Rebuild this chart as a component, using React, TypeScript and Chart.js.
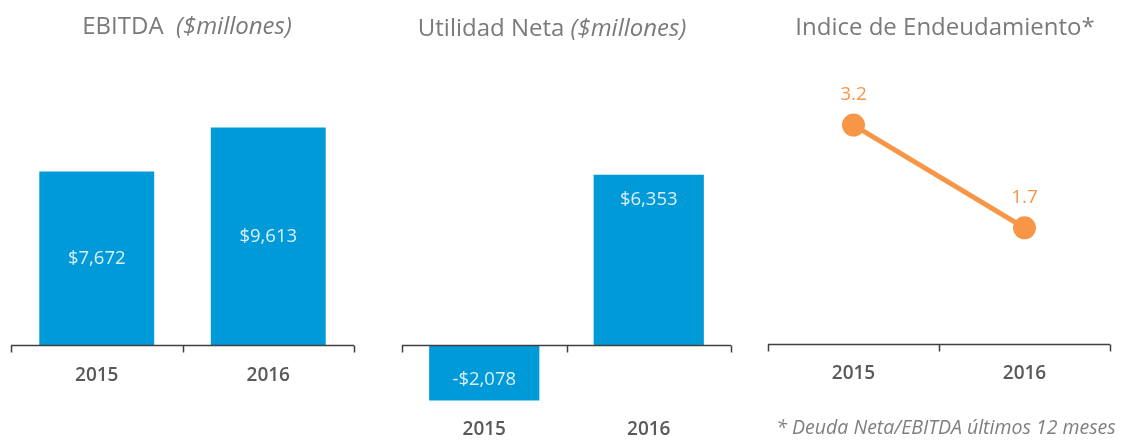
import React, { useEffect, useRef } from "react";
import { Chart, registerables } from "chart.js";
Chart.register(...registerables);

const years = ["2015", "2016"];
const ebitda = [7672, 9613];
const utilidadNeta = [-2078, 6353];
const endeudamiento = [3.2, 1.7];

const BLUE = "#009ad8";
const ORANGE = "#f79646";
const AXIS = "#404040";
const TITLE_GRAY = "#7a7a7a";
const TICK_GRAY = "#595959";
const FONT = "'Open Sans', 'DejaVu Sans', sans-serif";

const money = (v: number) =>
  (v < 0 ? "-$" : "$") + Math.abs(v).toLocaleString("en-US");

type TitlePart = { text: string; italic?: boolean };

const titlePlugin = {
  id: "panelTitle",
  afterDraw(chart: any, _args: any, opts: any) {
    if (!opts || !opts.parts) return;
    const ctx = chart.ctx;
    ctx.save();
    ctx.fillStyle = opts.color || TITLE_GRAY;
    ctx.textBaseline = "middle";
    const fontOf = (p: TitlePart) =>
      `${p.italic ? "italic " : ""}${opts.size}px ${FONT}`;
    let total = 0;
    const widths = opts.parts.map((p: TitlePart) => {
      ctx.font = fontOf(p);
      const w = ctx.measureText(p.text).width;
      total += w;
      return w;
    });
    let x = opts.cx - total / 2;
    opts.parts.forEach((p: TitlePart, i: number) => {
      ctx.font = fontOf(p);
      ctx.textAlign = "left";
      ctx.fillText(p.text, x, opts.cy);
      x += widths[i];
    });
    ctx.restore();
  },
};

const baselinePlugin = {
  id: "baseline",
  afterDatasetsDraw(chart: any) {
    const { ctx, chartArea } = chart;
    const x = chart.scales.x;
    const y = chart.scales.y;
    const y0 = Math.round(y.getPixelForValue(0)) + 0.5;
    const half = (x.getPixelForValue(1) - x.getPixelForValue(0)) / 2;
    const marks = [
      x.getPixelForValue(0) - half,
      x.getPixelForValue(0) + half,
      x.getPixelForValue(1) + half,
    ];
    ctx.save();
    ctx.strokeStyle = AXIS;
    ctx.lineWidth = 1.5;
    ctx.beginPath();
    ctx.moveTo(chartArea.left, y0);
    ctx.lineTo(chartArea.right, y0);
    marks.forEach((m) => {
      const mx = Math.round(m) + 0.5;
      ctx.moveTo(mx, y0);
      ctx.lineTo(mx, y0 + 7);
    });
    ctx.stroke();
    ctx.restore();
  },
};

const valueLabelPlugin = {
  id: "valueLabels",
  afterDatasetsDraw(chart: any, _args: any, opts: any) {
    if (!opts || !opts.mode) return;
    const ctx = chart.ctx;
    const meta = chart.getDatasetMeta(0);
    const data = chart.data.datasets[0].data as number[];
    ctx.save();
    ctx.font = `${opts.size}px ${FONT}`;
    ctx.fillStyle = opts.color;
    ctx.textAlign = "center";
    ctx.textBaseline = "middle";
    meta.data.forEach((el: any, i: number) => {
      const v = data[i];
      let ty = el.y;
      if (opts.mode === "center") {
        ty = (el.y + el.base) / 2;
      } else if (opts.mode === "endInside") {
        ty = v >= 0 ? el.y + 25 : el.y - 21;
      } else if (opts.mode === "above") {
        ty = el.y - 30;
      }
      ctx.fillText(opts.format(v), el.x, ty);
    });
    ctx.restore();
  },
};

const xAxis = (padding: number) => ({
  type: "category" as const,
  offset: true,
  grid: { display: false, drawTicks: false },
  border: { display: false },
  ticks: {
    padding,
    color: TICK_GRAY,
    font: { family: FONT, size: 19, weight: "600" as any },
  },
});

function Panel(props: {
  left: number;
  width: number;
  height: number;
  config: any;
}) {
  const ref = useRef<HTMLCanvasElement | null>(null);
  useEffect(() => {
    if (!ref.current) return;
    const chart = new Chart(ref.current, props.config);
    return () => chart.destroy();
  }, []);
  return (
    <canvas
      ref={ref}
      width={props.width}
      height={props.height}
      style={{
        position: "absolute",
        left: props.left,
        top: 0,
        width: props.width,
        height: props.height,
      }}
    />
  );
}

const ebitdaConfig = {
  type: "bar",
  data: {
    labels: years,
    datasets: [
      {
        data: ebitda,
        backgroundColor: BLUE,
        categoryPercentage: 1,
        barPercentage: 0.67,
      },
    ],
  },
  plugins: [baselinePlugin, valueLabelPlugin, titlePlugin],
  options: {
    responsive: false,
    animation: false,
    layout: { padding: { left: 11, right: 16, top: 60, bottom: 35 } },
    scales: {
      x: xAxis(19),
      y: { display: false, min: 0, max: 12600 },
    },
    plugins: {
      legend: { display: false },
      tooltip: { enabled: false },
      valueLabels: { mode: "center", size: 18.5, color: "#dcf0fa", format: money },
      panelTitle: {
        parts: [{ text: "EBITDA  " }, { text: "($millones)", italic: true }],
        cx: 187,
        cy: 27,
        size: 24,
      },
    },
  },
};

const netaConfig = {
  type: "bar",
  data: {
    labels: years,
    datasets: [
      {
        data: utilidadNeta,
        backgroundColor: BLUE,
        categoryPercentage: 1,
        barPercentage: 0.67,
      },
    ],
  },
  plugins: [baselinePlugin, valueLabelPlugin, titlePlugin],
  options: {
    responsive: false,
    animation: false,
    layout: { padding: { left: 22, right: 19, top: 61, bottom: 0 } },
    scales: {
      x: xAxis(17),
      y: { display: false, min: -2100, max: 10600 },
    },
    plugins: {
      legend: { display: false },
      tooltip: { enabled: false },
      valueLabels: { mode: "endInside", size: 18.5, color: "#dcf0fa", format: money },
      panelTitle: {
        parts: [{ text: "Utilidad Neta " }, { text: "($millones)", italic: true }],
        cx: 172,
        cy: 29,
        size: 24,
      },
    },
  },
};

const indiceConfig = {
  type: "line",
  data: {
    labels: years,
    datasets: [
      {
        data: endeudamiento,
        borderColor: ORANGE,
        backgroundColor: ORANGE,
        borderWidth: 5,
        pointRadius: 9,
        pointBackgroundColor: ORANGE,
        pointBorderColor: ORANGE,
        tension: 0,
      },
    ],
  },
  plugins: [baselinePlugin, valueLabelPlugin, titlePlugin],
  options: {
    responsive: false,
    animation: false,
    layout: { padding: { left: 18, right: 8, top: 60, bottom: 38 } },
    scales: {
      x: xAxis(18),
      y: { display: false, min: 0, max: 4.15 },
    },
    plugins: {
      legend: { display: false },
      tooltip: { enabled: false },
      valueLabels: {
        mode: "above",
        size: 19,
        color: ORANGE,
        format: (v: number) => v.toFixed(1),
      },
      panelTitle: {
        parts: [{ text: "Indice de Endeudamiento*" }],
        cx: 195,
        cy: 28,
        size: 24,
      },
    },
  },
};

export default function App() {
  return (
    <div
      style={{
        position: "fixed",
        left: 0,
        top: 0,
        width: 1124,
        height: 441,
        background: "#ffffff",
        overflow: "hidden",
      }}
    >
      <Panel left={0} width={370} height={441} config={ebitdaConfig} />
      <Panel left={380} width={370} height={458} config={netaConfig} />
      <Panel left={750} width={374} height={441} config={indiceConfig} />
      <div
        style={{
          position: "absolute",
          left: 750,
          width: 374,
          top: 413,
          textAlign: "center",
          fontFamily: FONT,
          fontStyle: "italic",
          fontSize: 19.5,
          color: "#7f7f7f",
          paddingLeft: 18,
          boxSizing: "border-box",
          lineHeight: "28px",
          whiteSpace: "nowrap",
        }}
      >
        * Deuda Neta/EBITDA últimos 12 meses
      </div>
    </div>
  );
}
